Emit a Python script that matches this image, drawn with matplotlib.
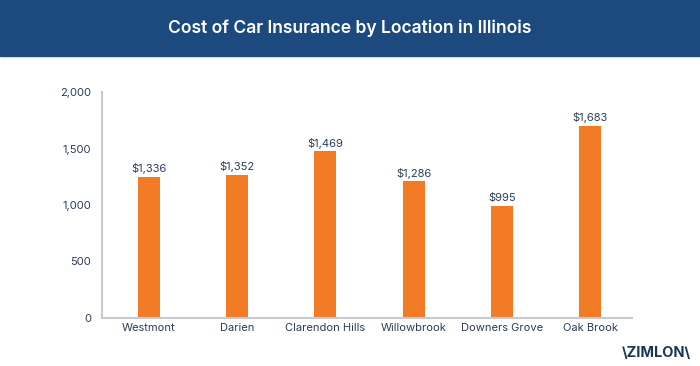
import matplotlib
matplotlib.use('Agg')
import matplotlib.pyplot as plt
from matplotlib.patches import Rectangle

plt.rcParams['font.family'] = ['Inter', 'DejaVu Sans']

# data
locations = ['Westmont', 'Darien', 'Clarendon Hills', 'Willowbrook', 'Downers Grove', 'Oak Brook']
bar_heights = [1250, 1265, 1475, 1210, 990, 1700]
value_labels = ['$1,336', '$1,352', '$1,469', '$1,286', '$995', '$1,683']
yticks = [0, 500, 1000, 1500, 2000]
ytick_labels = ['0', '500', '1,000', '1,500', '2,000']

navy = '#1c4a7e'
text_col = '#2b3d55'
orange = '#f27c26'

fig = plt.figure(figsize=(7, 3.66), dpi=100)

# header band
fig.patches.append(Rectangle((0, 1 - 56 / 366), 1, 56 / 366, transform=fig.transFigure,
                             color=navy, zorder=0))
fig.text(0.5, 1 - 28 / 366, 'Cost of Car Insurance by Location in Illinois',
         color='white', fontsize=12.6, fontweight='semibold', ha='center', va='center')

ax = fig.add_axes([102 / 700, 48.3 / 366, 530 / 700, 225.4 / 366])
x = range(len(locations))
ax.bar(x, bar_heights, width=0.25, color=orange, zorder=2)
for xi, h, lab in zip(x, bar_heights, value_labels):
    ax.text(xi, h + 25, lab, ha='center', va='bottom', fontsize=8, color=text_col)

ax.set_xlim(-0.533, 5.476)
ax.set_ylim(0, 2000)
ax.set_yticks(yticks)
ax.set_yticklabels(ytick_labels)
ax.set_xticks(list(x))
ax.set_xticklabels(locations, fontsize=7.6)
ax.tick_params(length=0, labelsize=8, colors=text_col)
ax.tick_params(axis='y', pad=8)
ax.tick_params(axis='x', pad=4)
for s in ['top', 'right']:
    ax.spines[s].set_visible(False)
for s in ['left', 'bottom']:
    ax.spines[s].set_color('#c5c9d0')
    ax.spines[s].set_linewidth(1.5)

# logo
fig.text(656 / 700, 1 - 353 / 366, '\\ZIMLON\\', color='#1b3556', fontsize=10.5,
         fontweight='bold', ha='center', va='center')

fig.savefig('out.png', dpi=100)
